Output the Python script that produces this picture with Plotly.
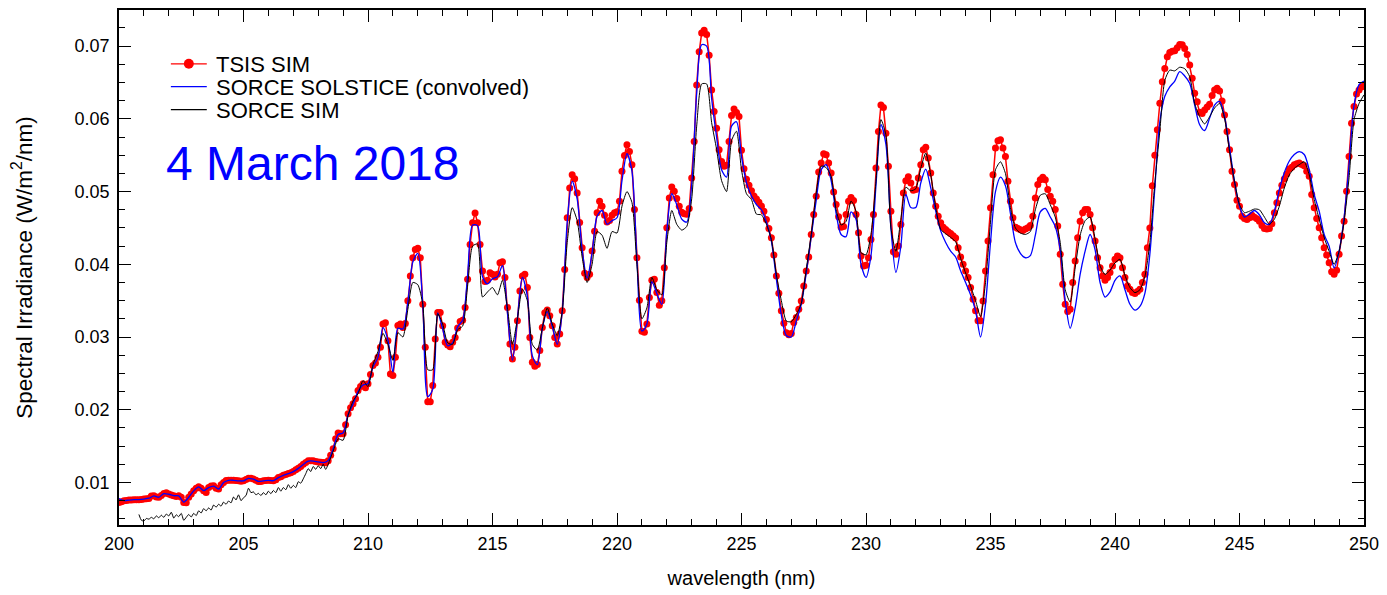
import plotly.graph_objects as go

# ---------------- data ----------------
# TSIS SIM sampled every 0.1 nm, 200.0 - 250.0 nm
TSIS_WAVELENGTH = [round(200 + 0.1 * i, 1) for i in range(501)]
TSIS_SIM = [
    0.00726, 0.00735, 0.00749, 0.00753, 0.00758, 0.00758, 0.00763, 0.00763, 0.00763, 0.00767,  # 200
    0.00772, 0.00776, 0.00781, 0.00813, 0.00817, 0.00799, 0.00795, 0.00822, 0.00849, 0.00858,  # 201
    0.00840, 0.00826, 0.00817, 0.00808, 0.00817, 0.00795, 0.00725, 0.00721, 0.00795, 0.00840,  # 202
    0.00886, 0.00922, 0.00941, 0.00922, 0.00886, 0.00863, 0.00932, 0.00950, 0.00954, 0.00922,  # 203
    0.00909, 0.00968, 0.01000, 0.01027, 0.01032, 0.01032, 0.01032, 0.01027, 0.01023, 0.01018,  # 204
    0.01023, 0.01041, 0.01059, 0.01059, 0.01046, 0.01032, 0.01014, 0.01014, 0.01023, 0.01027,  # 205
    0.01032, 0.01027, 0.01023, 0.01037, 0.01068, 0.01078, 0.01100, 0.01110, 0.01123, 0.01132,  # 206
    0.01151, 0.01174, 0.01196, 0.01219, 0.01251, 0.01274, 0.01297, 0.01297, 0.01297, 0.01288,  # 207
    0.01283, 0.01279, 0.01274, 0.01270, 0.01297, 0.01374, 0.01465, 0.01602, 0.01680, 0.01670,  # 208
    0.01670, 0.01794, 0.01945, 0.02027, 0.02082, 0.02150, 0.02264, 0.02319, 0.02356, 0.02301,  # 209
    0.02356, 0.02484, 0.02607, 0.02643, 0.02721, 0.02858, 0.03178, 0.03196, 0.02950, 0.02493,  # 210
    0.02470, 0.02721, 0.03160, 0.03178, 0.03132, 0.03187, 0.03500, 0.03840, 0.04091, 0.04205,  # 211
    0.04220, 0.04091, 0.03452, 0.02858, 0.02110, 0.02110, 0.02333, 0.02972, 0.03337, 0.03337,  # 212
    0.03155, 0.02927, 0.02890, 0.02867, 0.02927, 0.02995, 0.03123, 0.03214, 0.03232, 0.03406,  # 213
    0.03794, 0.04273, 0.04570, 0.04707, 0.04570, 0.04273, 0.03908, 0.03762, 0.03780, 0.03885,  # 214
    0.03862, 0.03826, 0.03862, 0.04022, 0.04036, 0.03817, 0.03406, 0.02904, 0.02698, 0.02858,  # 215
    0.03223, 0.03634, 0.03840, 0.03862, 0.03680, 0.02995, 0.02653, 0.02598, 0.02621, 0.02813,  # 216
    0.03132, 0.03333, 0.03370, 0.03292, 0.03155, 0.02995, 0.02904, 0.03040, 0.03361, 0.03930,  # 217
    0.04639, 0.05050, 0.05233, 0.05178, 0.04981, 0.04575, 0.04228, 0.03877, 0.03817, 0.03863,  # 218
    0.04182, 0.04456, 0.04708, 0.04867, 0.04799, 0.04676, 0.04580, 0.04602, 0.04676, 0.04708,  # 219
    0.04721, 0.04867, 0.05278, 0.05497, 0.05644, 0.05552, 0.05370, 0.04753, 0.04091, 0.03507,  # 220
    0.03080, 0.03064, 0.03180, 0.03543, 0.03781, 0.03794, 0.03612, 0.03438, 0.03500, 0.03954,  # 221
    0.04502, 0.04913, 0.05064, 0.05004, 0.04904, 0.04799, 0.04717, 0.04694, 0.04689, 0.04767,  # 222
    0.05187, 0.05689, 0.06465, 0.06922, 0.07180, 0.07220, 0.07160, 0.06876, 0.06397, 0.06100,  # 223
    0.05872, 0.05575, 0.05415, 0.05347, 0.05361, 0.05689, 0.06045, 0.06137, 0.06086, 0.06032,  # 224
    0.05570, 0.05315, 0.05170, 0.05086, 0.05013, 0.04940, 0.04899, 0.04854, 0.04799, 0.04730,  # 225
    0.04616, 0.04493, 0.04365, 0.04128, 0.03840, 0.03602, 0.03360, 0.03190, 0.03060, 0.03030,  # 226
    0.03050, 0.03201, 0.03269, 0.03383, 0.03497, 0.03703, 0.03908, 0.04100, 0.04411, 0.04685,  # 227
    0.04936, 0.05269, 0.05392, 0.05520, 0.05506, 0.05392, 0.05255, 0.04995, 0.04822, 0.04653,  # 228
    0.04511, 0.04520, 0.04685, 0.04867, 0.04917, 0.04876, 0.04685, 0.04433, 0.04114, 0.03977,  # 229
    0.03986, 0.04091, 0.04342, 0.04685, 0.05324, 0.05826, 0.06190, 0.06155, 0.05803, 0.05347,  # 230
    0.04730, 0.04173, 0.04137, 0.04251, 0.04548, 0.04981, 0.05150, 0.05205, 0.05118, 0.05018,  # 231
    0.05027, 0.05187, 0.05369, 0.05575, 0.05611, 0.05461, 0.05255, 0.04981, 0.04799, 0.04662,  # 232
    0.04570, 0.04511, 0.04479, 0.04447, 0.04424, 0.04392, 0.04360, 0.04228, 0.04100, 0.03999,  # 233
    0.03908, 0.03817, 0.03680, 0.03520, 0.03360, 0.03223, 0.03223, 0.03497, 0.03908, 0.04320,  # 234
    0.04776, 0.05232, 0.05598, 0.05698, 0.05712, 0.05598, 0.05484, 0.05141, 0.04867, 0.04639,  # 235
    0.04511, 0.04493, 0.04475, 0.04466, 0.04484, 0.04502, 0.04534, 0.04662, 0.04913, 0.05096,  # 236
    0.05164, 0.05196, 0.05164, 0.05027, 0.04936, 0.04867, 0.04753, 0.04525, 0.04137, 0.03726,  # 237
    0.03452, 0.03351, 0.03383, 0.03749, 0.04046, 0.04365, 0.04593, 0.04708, 0.04753, 0.04753,  # 238
    0.04685, 0.04502, 0.04320, 0.04091, 0.03954, 0.03840, 0.03780, 0.03817, 0.03886, 0.03977,  # 239
    0.04068, 0.04114, 0.04091, 0.03954, 0.03817, 0.03703, 0.03657, 0.03612, 0.03598, 0.03625,  # 240
    0.03657, 0.03749, 0.03863, 0.04228, 0.04500, 0.05080, 0.05500, 0.05850, 0.06214, 0.06510,  # 241
    0.06694, 0.06854, 0.06913, 0.06931, 0.06936, 0.06977, 0.07023, 0.07018, 0.06968, 0.06886,  # 242
    0.06740, 0.06557, 0.06351, 0.06237, 0.06090, 0.06073, 0.06123, 0.06164, 0.06201, 0.06320,  # 243
    0.06397, 0.06420, 0.06383, 0.06246, 0.06054, 0.05826, 0.05575, 0.05278, 0.05096, 0.04881,  # 244
    0.04799, 0.04662, 0.04630, 0.04616, 0.04639, 0.04676, 0.04648, 0.04625, 0.04593, 0.04534,  # 245
    0.04493, 0.04484, 0.04493, 0.04557, 0.04708, 0.04845, 0.04981, 0.05087, 0.05173, 0.05242,  # 246
    0.05310, 0.05333, 0.05370, 0.05383, 0.05392, 0.05374, 0.05356, 0.05278, 0.05210, 0.04959,  # 247
    0.04776, 0.04630, 0.04502, 0.04365, 0.04228, 0.04128, 0.04023, 0.03899, 0.03863, 0.03918,  # 248
    0.04137, 0.04388, 0.04593, 0.05004, 0.05484, 0.05940, 0.06169, 0.06342, 0.06397, 0.06438,  # 249
    0.06456,                                                                                     # 250
]

# SORCE SOLSTICE (convolved) sampled every 0.2 nm, 200.0 - 250.0 nm
SOLSTICE_WAVELENGTH = [round(200 + 0.2 * i, 1) for i in range(251)]
SORCE_SOLSTICE = [
    0.00780, 0.00752, 0.00758, 0.00763, 0.00765,
    0.00772, 0.00783, 0.00815, 0.00797, 0.00847,
    0.00838, 0.00818, 0.00815, 0.00730, 0.00797,
    0.00884, 0.00938, 0.00888, 0.00930, 0.00950,
    0.00910, 0.00998, 0.01030, 0.01030, 0.01022,
    0.01022, 0.01057, 0.01045, 0.01015, 0.01022,
    0.01030, 0.01024, 0.01066, 0.01098, 0.01122,
    0.01150, 0.01194, 0.01248, 0.01292, 0.01294,
    0.01282, 0.01272, 0.01300, 0.01460, 0.01660,
    0.01680, 0.01930, 0.02080, 0.02250, 0.02340,
    0.02360, 0.02590, 0.02720, 0.03130, 0.02960,
    0.02520, 0.03120, 0.03110, 0.03480, 0.04030,
    0.04150, 0.03450, 0.02180, 0.02280, 0.03330,
    0.03110, 0.02880, 0.02920, 0.03140, 0.03230,
    0.03850, 0.04540, 0.04530, 0.03830, 0.03730,
    0.03800, 0.03830, 0.03980, 0.03330, 0.02680,
    0.03250, 0.03820, 0.03560, 0.02740, 0.02620,
    0.03120, 0.03350, 0.03150, 0.02900, 0.03350,
    0.04580, 0.05140, 0.04900, 0.04200, 0.03810,
    0.04160, 0.04660, 0.04740, 0.04550, 0.04600,
    0.04640, 0.05150, 0.05520, 0.05280, 0.04070,
    0.03080, 0.03180, 0.03760, 0.03600, 0.03450,
    0.04460, 0.04970, 0.04820, 0.04620, 0.04580,
    0.05100, 0.06350, 0.07020, 0.07000, 0.06280,
    0.05750, 0.05300, 0.05200, 0.05900, 0.05960,
    0.05480, 0.05120, 0.04940, 0.04820, 0.04750,
    0.04580, 0.04320, 0.03800, 0.03300, 0.03020,
    0.03000, 0.03220, 0.03450, 0.03880, 0.04380,
    0.04880, 0.05300, 0.05370, 0.05150, 0.04700,
    0.04410, 0.04380, 0.04720, 0.04620, 0.04000,
    0.03820, 0.04120, 0.05080, 0.05920, 0.05650,
    0.04500, 0.03890, 0.04250, 0.04960, 0.04780,
    0.04780, 0.05120, 0.05310, 0.05050, 0.04730,
    0.04460, 0.04300, 0.04180, 0.04100, 0.03910,
    0.03750, 0.03580, 0.03360, 0.03000, 0.03450,
    0.04300, 0.05000, 0.05200, 0.05080, 0.04700,
    0.04300, 0.04150, 0.04090, 0.04120, 0.04400,
    0.04720, 0.04770, 0.04650, 0.04520, 0.04200,
    0.03500, 0.03120, 0.03400, 0.03860, 0.04180,
    0.04410, 0.04200, 0.03750, 0.03550, 0.03620,
    0.03780, 0.03840, 0.03650, 0.03450, 0.03370,
    0.03420, 0.03600, 0.04140, 0.05050, 0.05960,
    0.06310, 0.06440, 0.06520, 0.06650, 0.06590,
    0.06490, 0.06190, 0.05920, 0.05840, 0.06010,
    0.06190, 0.06240, 0.06030, 0.05600, 0.05140,
    0.04800, 0.04650, 0.04690, 0.04740, 0.04680,
    0.04570, 0.04550, 0.04730, 0.05030, 0.05260,
    0.05420, 0.05510, 0.05550, 0.05510, 0.05300,
    0.04960, 0.04730, 0.04410, 0.04250, 0.03950,
    0.04180, 0.04640, 0.05370, 0.06190, 0.06470,
    0.06520,
]

# SORCE SIM: 0.1 nm from 200.8 to 208.4, then 0.2 nm to 250.0
SIM_WAVELENGTH = [round(200.8 + 0.1 * i, 1) for i in range(77)] + \
                 [round(208.6 + 0.2 * i, 1) for i in range(208)]
SORCE_SIM = [
    0.00560, 0.00480, 0.00470, 0.00505, 0.00495, 0.00520, 0.00500, 0.00540,
    0.00515, 0.00550, 0.00520, 0.00565, 0.00540, 0.00590, 0.00510, 0.00555,
    0.00530, 0.00575, 0.00480, 0.00520, 0.00560, 0.00525, 0.00575, 0.00545,
    0.00610, 0.00580, 0.00640, 0.00610, 0.00650, 0.00620, 0.00690, 0.00660,
    0.00700, 0.00675, 0.00730, 0.00700, 0.00745, 0.00720, 0.00800, 0.00760,
    0.00830, 0.00750, 0.00790, 0.00820, 0.00920, 0.00860, 0.00870, 0.00830,
    0.00850, 0.00820, 0.00860, 0.00830, 0.00880, 0.00845, 0.00890, 0.00860,
    0.00930, 0.00880, 0.00930, 0.00900, 0.00970, 0.00920, 0.00960, 0.00930,
    0.01010, 0.00990, 0.01050, 0.01120, 0.01190, 0.01150, 0.01220, 0.01180,
    0.01230, 0.01190, 0.01250, 0.01180, 0.01250,
    0.01430, 0.01600,
    0.01580, 0.01920, 0.02120, 0.02220, 0.02400,
    0.02320, 0.02620, 0.02800, 0.03050, 0.02900,
    0.02680, 0.03060, 0.03000, 0.03380, 0.03750,
    0.03720, 0.03450, 0.02550, 0.02550, 0.03320,
    0.03180, 0.02920, 0.02900, 0.03100, 0.03150,
    0.03700, 0.04250, 0.04280, 0.03550, 0.03620,
    0.03680, 0.03580, 0.03780, 0.03400, 0.02900,
    0.03250, 0.03660, 0.03500, 0.02900, 0.02820,
    0.03120, 0.03400, 0.03180, 0.03020, 0.03350,
    0.04300, 0.04780, 0.04600, 0.04100, 0.03750,
    0.04000, 0.04450, 0.04400, 0.04220, 0.04450,
    0.04430, 0.04800, 0.05000, 0.04850, 0.04000,
    0.03250, 0.03400, 0.03820, 0.03650, 0.03580,
    0.04300, 0.04740, 0.04550, 0.04470, 0.04520,
    0.04900, 0.05900, 0.06480, 0.06480, 0.05950,
    0.05580, 0.05150, 0.05000, 0.05700, 0.05830,
    0.05300, 0.04970, 0.04890, 0.04690, 0.04680,
    0.04550, 0.04340, 0.03860, 0.03500, 0.03220,
    0.03210, 0.03310, 0.03460, 0.03930, 0.04410,
    0.04980, 0.05350, 0.05330, 0.05210, 0.04750,
    0.04540, 0.04590, 0.04870, 0.04730, 0.04160,
    0.04130, 0.04410, 0.05140, 0.05990, 0.05780,
    0.04500, 0.04180, 0.04620, 0.05060, 0.05010,
    0.05040, 0.05320, 0.05530, 0.05230, 0.04780,
    0.04480, 0.04420, 0.04370, 0.04310, 0.04080,
    0.03880, 0.03700, 0.03500, 0.03280, 0.03750,
    0.04580, 0.05300, 0.05410, 0.05250, 0.04780,
    0.04500, 0.04430, 0.04410, 0.04450, 0.04750,
    0.04950, 0.04970, 0.04820, 0.04650, 0.04300,
    0.03650, 0.03480, 0.03950, 0.04400, 0.04600,
    0.04650, 0.04350, 0.03980, 0.03860, 0.03920,
    0.04020, 0.04070, 0.03850, 0.03680, 0.03610,
    0.03650, 0.03830, 0.04300, 0.05120, 0.05830,
    0.06530, 0.06670, 0.06660, 0.06710, 0.06690,
    0.06580, 0.06210, 0.06030, 0.05930, 0.06030,
    0.06150, 0.06210, 0.06010, 0.05550, 0.05140,
    0.04820, 0.04710, 0.04730, 0.04760, 0.04750,
    0.04650, 0.04550, 0.04620, 0.04800, 0.05050,
    0.05230, 0.05320, 0.05370, 0.05410, 0.05230,
    0.04890, 0.04620, 0.04370, 0.04180, 0.04000,
    0.04180, 0.04590, 0.05190, 0.05990, 0.06210,
    0.06330,
]

SERIES_NAMES = ["TSIS SIM", "SORCE SOLSTICE (convolved)", "SORCE SIM"]
SERIES_COLORS = ["#ff0000", "#0000ff", "#000000"]
X_TICKS = [200, 205, 210, 215, 220, 225, 230, 235, 240, 245, 250]
Y_TICKS = [0.01, 0.02, 0.03, 0.04, 0.05, 0.06, 0.07]
Y_TICK_LABELS = ["0.01", "0.02", "0.03", "0.04", "0.05", "0.06", "0.07"]
DATE_LABEL = "4 March 2018"

FONT = "Liberation Sans, Arial, Helvetica, sans-serif"

# ---------------- figure ----------------
fig = go.Figure()
fig.add_trace(go.Scatter(
    x=TSIS_WAVELENGTH, y=TSIS_SIM, name=SERIES_NAMES[0], mode="lines+markers",
    line=dict(color=SERIES_COLORS[0], width=1.5),
    marker=dict(color=SERIES_COLORS[0], size=7, symbol="circle", line=dict(width=0)),
    showlegend=False,
))
fig.add_trace(go.Scatter(
    x=SOLSTICE_WAVELENGTH, y=SORCE_SOLSTICE, name=SERIES_NAMES[1], mode="lines",
    line=dict(color=SERIES_COLORS[1], width=1.3, shape="spline", smoothing=0.8),
    showlegend=False,
))
fig.add_trace(go.Scatter(
    x=SIM_WAVELENGTH, y=SORCE_SIM, name=SERIES_NAMES[2], mode="lines",
    line=dict(color=SERIES_COLORS[2], width=1.0, shape="spline", smoothing=0.6),
    showlegend=False,
))

# ---- legend drawn in paper coordinates (compact row spacing as in the reference) ----
PLOT_L, PLOT_R, PLOT_T, PLOT_B = 119, 1367, 8, 525


def px_x(p):
    return (p - PLOT_L) / (PLOT_R - PLOT_L)


def px_y(p):
    return (PLOT_B - p) / (PLOT_B - PLOT_T)


legend_rows = [62, 85, 108]
for name, color, row in zip(SERIES_NAMES, SERIES_COLORS, legend_rows):
    fig.add_shape(type="line", xref="paper", yref="paper",
                  x0=px_x(171), x1=px_x(207), y0=px_y(row), y1=px_y(row),
                  line=dict(color=color, width=1.3))
    fig.add_annotation(text=name, xref="paper", yref="paper",
                       x=px_x(214), y=px_y(row + 1), xanchor="left", yanchor="middle",
                       height=23, valign="middle",
                       showarrow=False, font=dict(family=FONT, size=22, color="black"))
fig.add_shape(type="circle", xref="paper", yref="paper",
              x0=px_x(184), x1=px_x(194), y0=px_y(67), y1=px_y(57),
              fillcolor=SERIES_COLORS[0], line=dict(width=0))

fig.add_annotation(
    text=DATE_LABEL, xref="paper", yref="paper", x=px_x(164), y=px_y(162),
    xanchor="left", yanchor="middle", showarrow=False,
    font=dict(family=FONT, size=48, color="#0000ff"),
)

axis_common = dict(
    showline=True, linecolor="black", linewidth=1.5, mirror="ticks",
    ticks="inside", tickcolor="black", tickwidth=1.2, ticklen=12,
    showgrid=False, zeroline=False,
    tickfont=dict(family=FONT, size=18, color="black"),
)

fig.update_layout(
    width=1387, height=595,
    margin=dict(l=PLOT_L, r=1387 - PLOT_R, t=PLOT_T, b=595 - PLOT_B),
    paper_bgcolor="white", plot_bgcolor="white",
    font=dict(family=FONT, color="black"),
    showlegend=False,
    xaxis=dict(
        range=[200, 250], tickvals=X_TICKS,
        ticktext=[str(v) for v in X_TICKS],
        ticklabelstandoff=2,
        minor=dict(dtick=1, tick0=200, ticks="inside", ticklen=6, tickcolor="black", tickwidth=1.2),
        title=dict(text="wavelength (nm)", font=dict(family=FONT, size=20), standoff=18),
        **axis_common,
    ),
    yaxis=dict(
        range=[0.00415, 0.07497], tickvals=Y_TICKS, ticktext=Y_TICK_LABELS,
        ticklabelstandoff=4,
        minor=dict(dtick=0.0025, tick0=0.0, ticks="inside", ticklen=6, tickcolor="black", tickwidth=1.2),
        title=dict(text="Spectral Irradiance (W/m<sup>2</sup>/nm)", font=dict(family=FONT, size=22.5), standoff=36),
        **axis_common,
    ),
)

fig.write_html("out.html")
